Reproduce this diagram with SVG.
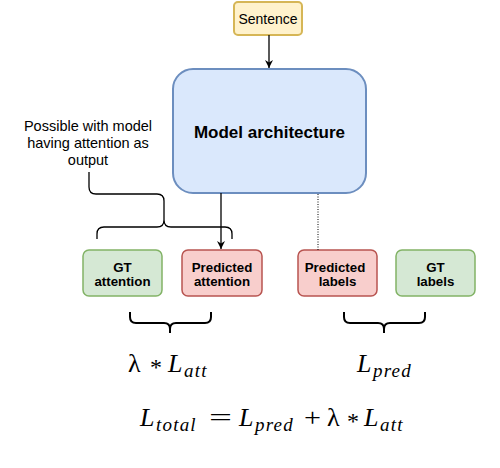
<svg xmlns="http://www.w3.org/2000/svg" width="500" height="468" viewBox="0 0 500 468">
<style>
.lbl{font-family:"Liberation Sans",Arial,sans-serif;font-size:13.3px;fill:#000;text-anchor:middle}
.b{font-weight:bold}
.note{font-size:14.5px}
.math{font-family:"Liberation Serif","DejaVu Serif",serif;font-size:26px;fill:#000}
.it{font-style:italic}
.ast{font-family:"Liberation Serif",serif;font-size:24px;fill:#000}
.sub{font-family:"Liberation Serif","DejaVu Serif",serif;font-style:italic;font-size:19px;letter-spacing:1.2px;fill:#000}
.ln{fill:none;stroke:#000;stroke-width:1.3}
.br{fill:none;stroke:#000;stroke-width:2}
.green{fill:#d5e8d4;stroke:#82b366;stroke-width:1.5}
.red{fill:#f8cecc;stroke:#b85450;stroke-width:1.5}
</style>
<defs>
<marker id="ah" markerWidth="10" markerHeight="10" refX="8" refY="5" orient="auto" markerUnits="userSpaceOnUse">
<path d="M0,1 L8,5 L0,9 L2.5,5 Z" fill="#000"/>
</marker>
</defs>
<rect width="500" height="468" fill="#fff"/>
<g id="sentence">
<rect x="234" y="2" width="68" height="33" rx="4" fill="#fff2cc" stroke="#d6b656" stroke-width="2"/>
<text class="lbl" x="268" y="24" style="font-size:14px">Sentence</text>
</g>
<g id="model">
<rect x="173" y="69" width="193" height="124" rx="20" fill="#dae8fc" stroke="#6c8ebf" stroke-width="2"/>
<text class="lbl b" x="269.5" y="138" style="font-size:17px">Model architecture</text>
</g>
<g id="note">
<text class="lbl note" x="88" y="131">Possible with model</text>
<text class="lbl note" x="88" y="148">having attention as</text>
<text class="lbl note" x="88" y="165">output</text>
</g>
<g id="gt-attention">
<rect class="green" x="83" y="250" width="79" height="46" rx="6"/>
<text class="lbl b" x="122.5" y="272">GT</text>
<text class="lbl b" x="122.5" y="286">attention</text>
</g>
<g id="pred-attention">
<rect class="red" x="182" y="250" width="80" height="46" rx="6"/>
<text class="lbl b" x="222" y="272">Predicted</text>
<text class="lbl b" x="222" y="286">attention</text>
</g>
<g id="pred-labels">
<rect class="red" x="298" y="250" width="79" height="46" rx="6"/>
<text class="lbl b" x="335" y="272">Predicted</text>
<text class="lbl b" x="337.5" y="286">labels</text>
</g>
<g id="gt-labels">
<rect class="green" x="396" y="250" width="79" height="46" rx="6"/>
<text class="lbl b" x="435.5" y="272">GT</text>
<text class="lbl b" x="435.5" y="286">labels</text>
</g>
<g id="connectors">
<line class="ln" x1="269" y1="35" x2="269" y2="68" marker-end="url(#ah)"/>
<line class="ln" x1="221" y1="193" x2="221" y2="249" marker-end="url(#ah)"/>
<line x1="318" y1="194" x2="318" y2="250" stroke="#000" stroke-width="1" stroke-dasharray="1,1.5"/>
<path class="ln" d="M89,172 L89,187 Q89,194 96,194 L157,194 Q164,194 164,201 L164,220 Q164,227 157,227 L104,227 Q97,227 97,234 L97,239 M164,220 Q164,227 171,227 L225,227 Q232,227 232,234 L232,239"/>
</g>
<g id="braces">
<path class="br" d="M130,312 L130,317 Q130,323 136,323 L164,323 Q170,323 170,329 L170,333 M170,329 Q170,323 176,323 L205,323 Q211,323 211,317 L211,312"/>
<path class="br" d="M344,312 L344,317 Q344,323 350,323 L378,323 Q384,323 384,329 L384,333 M384,329 Q384,323 390,323 L419,323 Q425,323 425,317 L425,312"/>
</g>
<g id="formulas">
<text class="math" x="128" y="372">λ</text>
<text class="ast" x="150" y="375">*</text>
<text class="math it" x="168" y="372">L</text>
<text class="sub" x="184" y="377">att</text>

<text class="math it" x="357" y="372">L</text>
<text class="sub" x="373" y="377">pred</text>

<text class="math it" x="140" y="426">L</text>
<text class="sub" x="156" y="431">total</text>
<text class="math" x="209" y="426" textLength="23" lengthAdjust="spacingAndGlyphs">=</text>
<text class="math it" x="239" y="426">L</text>
<text class="sub" x="255" y="431">pred</text>
<text class="math" x="304" y="426" textLength="17" lengthAdjust="spacingAndGlyphs">+</text>
<text class="math" x="327" y="426">λ</text>
<text class="ast" x="347" y="429">*</text>
<text class="math it" x="364" y="426">L</text>
<text class="sub" x="380" y="431">att</text>
</g>
</svg>
